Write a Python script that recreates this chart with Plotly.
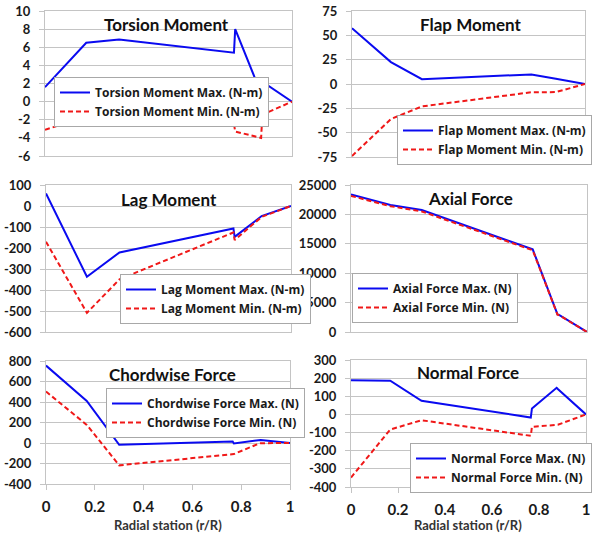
import plotly.graph_objects as go

# ---- data ----
stations = [0.0, 0.167, 0.3, 0.765, 0.77, 0.875, 0.88, 1.0]

torsion_max = [1.6, 6.5, 6.85, 5.4, 8.0, 0.9, 2.2, 0.0]
torsion_min = [-3.1, -1.7, -2.35, -2.45, -3.3, -4.0, -1.45, 0.0]

flap_max = [57.3, 22.5, 5.0, 10.3, 9.8, 5.3, 5.1, 0.0]
flap_min = [-74.0, -36.0, -23.0, -8.5, -8.5, -8.3, -8.0, 0.0]

lag_max = [60, -337, -221, -107, -147, -54, -48, 0]
lag_min = [-170, -509, -349, -126, -162, -59, -52, 0]

axial_max = [23400, 21600, 20750, 14100, 14050, 3000, 2950, 0]
axial_min = [23150, 21400, 20500, 13950, 13900, 2950, 2900, 0]

chord_max = [755, 411, -17, 15, -4, 31, 30, 0]
chord_min = [502, 177, -218, -108, -108, -4, -2, 0]

normal_max = [189, 186, 75, -17, 33, 147, 140, 0]
normal_min = [-348, -83, -32, -118, -68, -59, -57, 0]

titles = ["Torsion Moment", "Flap Moment", "Lag Moment", "Axial Force",
          "Chordwise Force", "Normal Force"]
units = ["(N-m)", "(N-m)", "(N-m)", "(N)", "(N)", "(N)"]
y_ticks = [
    [-6, -4, -2, 0, 2, 4, 6, 8, 10],
    [-75, -50, -25, 0, 25, 50, 75],
    [-600, -500, -400, -300, -200, -100, 0, 100],
    [0, 5000, 10000, 15000, 20000, 25000],
    [-400, -200, 0, 200, 400, 600, 800],
    [-400, -300, -200, -100, 0, 100, 200, 300],
]
x_ticks = [0, 0.2, 0.4, 0.6, 0.8, 1]
x_tick_labels = ["0", "0.2", "0.4", "0.6", "0.8", "1"]
x_title = "Radial station (r/R)"

series = [(torsion_max, torsion_min), (flap_max, flap_min), (lag_max, lag_min),
          (axial_max, axial_min), (chord_max, chord_min), (normal_max, normal_min)]

# ---- layout geometry (pixels) ----
W, H = 595, 533
panels = [  # x0, x1, ytop, ybottom
    (45, 292, 11, 156),
    (352, 585, 11, 157),
    (46, 291, 185, 332),
    (351, 587, 185, 332),
    (46, 290, 361, 484),
    (351, 586, 360, 487),
]
legend_pos = [(54, 77), (397, 115), (120, 274), (352, 273), (106, 388), (410, 443)]
title_pos = [(166, 24), (470, 25), (169, 200), (470, 198), (172, 374), (468, 372)]

FONT = "Lato"
LFONT = "Open Sans"
BLUE = "#0A0AF0"
RED = "#F01818"
GRID = "#C4C4C4"

fig = go.Figure()
layout = dict(
    width=W, height=H,
    margin=dict(l=0, r=0, t=0, b=0, autoexpand=False),
    paper_bgcolor="white", plot_bgcolor="white",
    font=dict(family=FONT, color="#1a1a1a"),
    showlegend=True,
    annotations=[],
)

for i in range(6):
    k = "" if i == 0 else str(i + 1)
    x0, x1, yt, yb = panels[i]
    ymax_s, ymin_s = series[i]
    leg = "legend" if i == 0 else f"legend{i+1}"
    fig.add_trace(go.Scatter(x=stations, y=ymax_s, mode="lines",
                             name=f"{titles[i]} Max. {units[i]}",
                             line=dict(color=BLUE, width=2),
                             xaxis="x" + k, yaxis="y" + k, legend=leg))
    fig.add_trace(go.Scatter(x=stations, y=ymin_s, mode="lines",
                             name=f"{titles[i]} Min. {units[i]}",
                             line=dict(color=RED, width=2, dash="5px,3px"),
                             xaxis="x" + k, yaxis="y" + k, legend=leg))
    bottom = i >= 4
    layout["xaxis" + k] = dict(
        domain=[x0 / W, x1 / W], range=[0, 1], anchor="y" + k,
        showgrid=False, zeroline=False, showline=True, linecolor=GRID,
        linewidth=1, mirror=True,
        tickvals=x_ticks if bottom else [], ticktext=x_tick_labels if bottom else [],
        showticklabels=bottom, ticks="outside" if bottom else "",
        ticklen=5, tickcolor=GRID, ticklabelstandoff=4,
        tickfont=dict(family=FONT, size=15, color="#1a1a1a", weight="bold"),
    )
    yt_list = y_ticks[i]
    layout["yaxis" + k] = dict(
        domain=[1 - yb / H, 1 - yt / H], range=[yt_list[0], yt_list[-1]],
        anchor="x" + k, tickvals=yt_list, ticktext=[str(v) for v in yt_list],
        showgrid=True, gridcolor=GRID, gridwidth=1, zeroline=False,
        showline=True, linecolor=GRID, linewidth=1, mirror=True,
        ticks="outside", ticklen=5, tickcolor=GRID, ticklabelstandoff=6,
        tickfont=dict(family=FONT, size=13, color="#1a1a1a", weight="bold"),
    )
    lx, ly = legend_pos[i]
    layout[leg] = dict(
        x=lx / W, y=1 - ly / H, xanchor="left", yanchor="top",
        bgcolor="white", bordercolor="#A8A8A8", borderwidth=1,
        font=dict(family=LFONT, size=12, color="#1a1a1a", weight="bold"),
        tracegroupgap=0, itemwidth=30,
    )
    tx, ty = title_pos[i]
    layout["annotations"].append(dict(
        text=titles[i], x=tx / W, y=1 - ty / H, xref="paper", yref="paper",
        xanchor="center", yanchor="middle", showarrow=False,
        font=dict(family=FONT, size=17, color="#111111", weight="bold")))

for cx in (168, 468):
    layout["annotations"].append(dict(
        text=x_title, x=cx / W, y=1 - 525 / H, xref="paper", yref="paper",
        xanchor="center", yanchor="middle", showarrow=False,
        font=dict(family=FONT, size=13, color="#333333", weight="bold")))

fig.update_layout(**layout)
fig.write_html("out.html")
